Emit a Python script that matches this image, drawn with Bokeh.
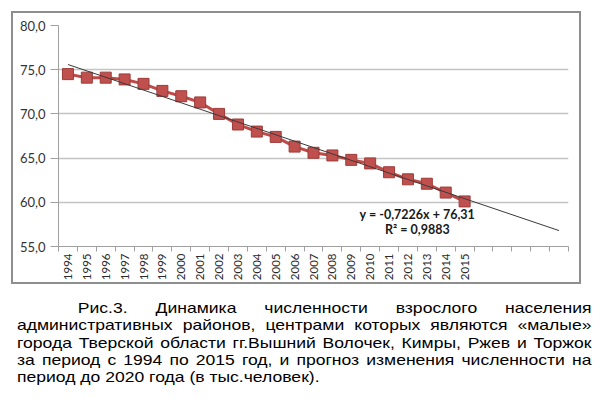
from bokeh.plotting import figure
from bokeh.models import FixedTicker, Div, ColumnDataSource, InlineStyleSheet
from bokeh.layouts import column
from bokeh.embed import file_html
from bokeh.resources import INLINE
from bokeh.core.properties import value
import math

years = list(range(1994, 2016))
values = [74.5, 74.1, 74.1, 73.9, 73.4, 72.6, 72.0, 71.3, 70.0, 68.8, 68.0,
          67.4, 66.3, 65.6, 65.3, 64.8, 64.4, 63.4, 62.6, 62.1, 61.1, 60.1]
axis_years = list(range(1994, 2021))
y_ticks = [55, 60, 65, 70, 75, 80]
trend_slope = -0.7226
trend_intercept = 76.31
eq_text = ["y = -0,7226x + 76,31", "R² = 0,9883"]
caption = ("Рис.3. Динамика численности взрослого населения административных районов, "
           "центрами которых являются «малые» города Тверской области гг.Вышний Волочек, "
           "Кимры, Ржев и Торжок за период с 1994 по 2015 год, и прогноз изменения "
           "численности на период до 2020 года (в тыс.человек).")

x0 = axis_years[0] - 0.5
x1 = axis_years[-1] + 0.5

p = figure(width=588, height=290, output_backend="svg", toolbar_location=None,
           x_range=(x0, x1), y_range=(55, 80),
           min_border_left=58, min_border_right=20, min_border_top=25, min_border_bottom=44)
p.outline_line_color = None
p.stylesheets = [InlineStyleSheet(css=(
    ":host::after { content: ''; position: absolute; left: 11px; top: 11px; "
    "width: 570px; height: 273px; border: 2px solid #8e8e8e; "
    "pointer-events: none; z-index: 100; }"))]

# grid
p.xgrid.grid_line_color = None
p.ygrid.grid_line_color = "#c4c4c4"
p.ygrid.grid_line_width = 1.5
p.ygrid.ticker = FixedTicker(ticks=y_ticks)

# y axis
p.yaxis.ticker = FixedTicker(ticks=y_ticks)
p.yaxis.major_label_overrides = {t: f"{t:.1f}".replace(".", ",") for t in y_ticks}
p.yaxis.axis_line_color = "#a0a0a0"
p.yaxis.major_tick_line_color = "#a0a0a0"
p.yaxis.major_tick_in = 0
p.yaxis.major_tick_out = 8
p.yaxis.minor_tick_line_color = None
p.yaxis.major_label_standoff = 5
p.yaxis.major_label_text_font = "Lato"
p.yaxis.major_label_text_font_size = "13px"
p.yaxis.major_label_text_color = "#333333"

# x axis
p.xaxis.ticker = FixedTicker(ticks=years, minor_ticks=[y - 0.5 for y in axis_years] + [x1])
p.xaxis.major_label_overrides = {y: str(y) for y in years}
p.xaxis.major_label_orientation = math.pi / 2
p.xaxis.axis_line_color = "#a0a0a0"
p.xaxis.major_tick_line_color = None
p.xaxis.major_tick_in = 0
p.xaxis.major_tick_out = 5
p.xaxis.minor_tick_line_color = "#a0a0a0"
p.xaxis.minor_tick_in = 0
p.xaxis.minor_tick_out = 5
p.xaxis.major_label_standoff = 2
p.xaxis.major_label_text_font = "Lato"
p.xaxis.major_label_text_font_size = "11.5px"
p.xaxis.major_label_text_color = "#2a2a2a"

src = ColumnDataSource(dict(x=years, y=values))
p.line("x", "y", source=src, line_color="#be4b48", line_width=3)
p.scatter("x", "y", source=src, marker="square", size=11,
          fill_color="#c0504d", line_color="#9c3b39", line_width=1)

# trend line from the displayed regression equation (x index 1 = 1994)
tx = [axis_years[0], axis_years[-1]]
ty = [trend_slope * (t - 1993) + trend_intercept for t in tx]
p.line(tx, ty, line_color="#3a3a3a", line_width=1)

p.text(x=[2012.5, 2012.5], y=[58.6, 56.9], text=eq_text,
       text_align="center", text_baseline="middle",
       text_font=value("Lato"), text_font_style="bold",
       text_font_size="12.5px", text_color="#1a1a1a")

html = ('<div style="width:491px; margin-left:12px; margin-top:4px; '
        'transform:scaleX(1.17); transform-origin:0 0; '
        "font-family:'Liberation Sans', Arial, sans-serif; font-size:15px; "
        'line-height:17.33px; text-align:justify; text-indent:52px; color:#000;">'
        + caption + '</div>')
div = Div(text=html, width=590, height=100)

layout = column(p, div, spacing=0)
open("out.html", "w").write(file_html(layout, INLINE))
